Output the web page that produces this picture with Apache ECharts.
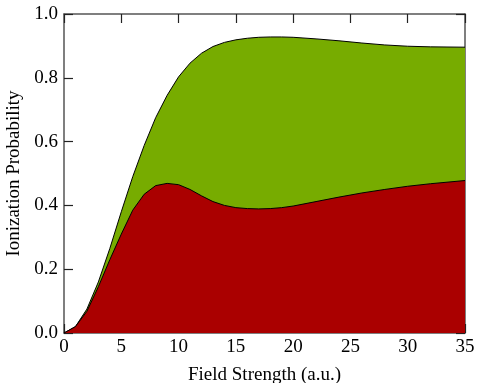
<!DOCTYPE html>
<html><head><meta charset="utf-8">
<script src="https://cdn.jsdelivr.net/npm/echarts@6/dist/echarts.min.js"></script>
<style>html,body{margin:0;padding:0;background:#fff}#c{width:477px;height:383px}</style>
</head><body><div id="c"></div>
<script>
const xs    = [0, 1, 2, 3, 4, 5, 6, 7, 8, 9, 10, 11, 12, 13, 14, 15, 16, 17, 18, 19, 20, 22, 24, 26, 28, 30, 32, 35];
const upper = [0, 0.02, 0.075, 0.16, 0.265, 0.38, 0.49, 0.588, 0.675, 0.745, 0.803, 0.846, 0.877, 0.898, 0.911, 0.919, 0.924, 0.927, 0.928, 0.928, 0.927, 0.922, 0.916, 0.909, 0.903, 0.899, 0.897, 0.896];
const lower = [0, 0.02, 0.068, 0.145, 0.23, 0.31, 0.385, 0.435, 0.462, 0.469, 0.465, 0.45, 0.43, 0.412, 0.4, 0.393, 0.39, 0.389, 0.39, 0.393, 0.398, 0.412, 0.426, 0.439, 0.45, 0.46, 0.468, 0.478];
const xTicks = [0, 5, 10, 15, 20, 25, 30, 35];
const yTicks = [0, 0.2, 0.4, 0.6, 0.8, 1.0];

const font = 'Liberation Serif';
const lineC = '#555';
const chart = echarts.init(document.getElementById('c'));
const pair = a => xs.map((x, i) => [x, a[i]]);
const xBase = (pos, show) => ({
  type: 'value', position: pos, min: 0, max: 35, interval: 5,
  axisLine: {show: true, onZero: false, lineStyle: {color: lineC, width: 1.5}},
  axisTick: {show: true, inside: true, length: 9, lineStyle: {color: '#222', width: 1.2}},
  axisLabel: {show: show, color: '#000', fontFamily: font, fontSize: 19, margin: 5},
  splitLine: {show: false}
});
const yBase = (pos, show) => ({
  type: 'value', position: pos, min: 0, max: 1, interval: 0.2,
  axisLine: {show: true, onZero: false, lineStyle: {color: lineC, width: 1.5}},
  axisTick: {show: true, inside: true, length: 9, lineStyle: {color: '#222', width: 1.2}},
  axisLabel: {show: show, color: '#000', fontFamily: font, fontSize: 19, margin: 6,
    formatter: v => v.toFixed(1)},
  splitLine: {show: false}
});
const xa = xBase('bottom', true);
xa.name = 'Field Strength (a.u.)'; xa.nameLocation = 'middle'; xa.nameGap = 33;
xa.nameTextStyle = {fontFamily: font, fontSize: 19, color: '#000'};
const ya = yBase('left', true);
ya.name = 'Ionization Probability'; ya.nameLocation = 'middle'; ya.nameGap = 40;
ya.nameTextStyle = {fontFamily: font, fontSize: 19, color: '#000'};

chart.setOption({
  animation: false,
  grid: {left: 64, right: 12, top: 14, bottom: 50, containLabel: false, outerBoundsMode: 'none'},
  xAxis: [xa, xBase('top', false)],
  yAxis: [ya, yBase('right', false)],
  series: [
    {type: 'line', data: pair(upper), smooth: false, symbol: 'none',
     lineStyle: {color: '#000', width: 1}, areaStyle: {color: '#77ac00', opacity: 1}, z: 2},
    {type: 'line', data: pair(lower), smooth: false, symbol: 'none',
     lineStyle: {color: '#000', width: 1}, areaStyle: {color: '#aa0000', opacity: 1}, z: 3}
  ]
});
</script></body></html>
